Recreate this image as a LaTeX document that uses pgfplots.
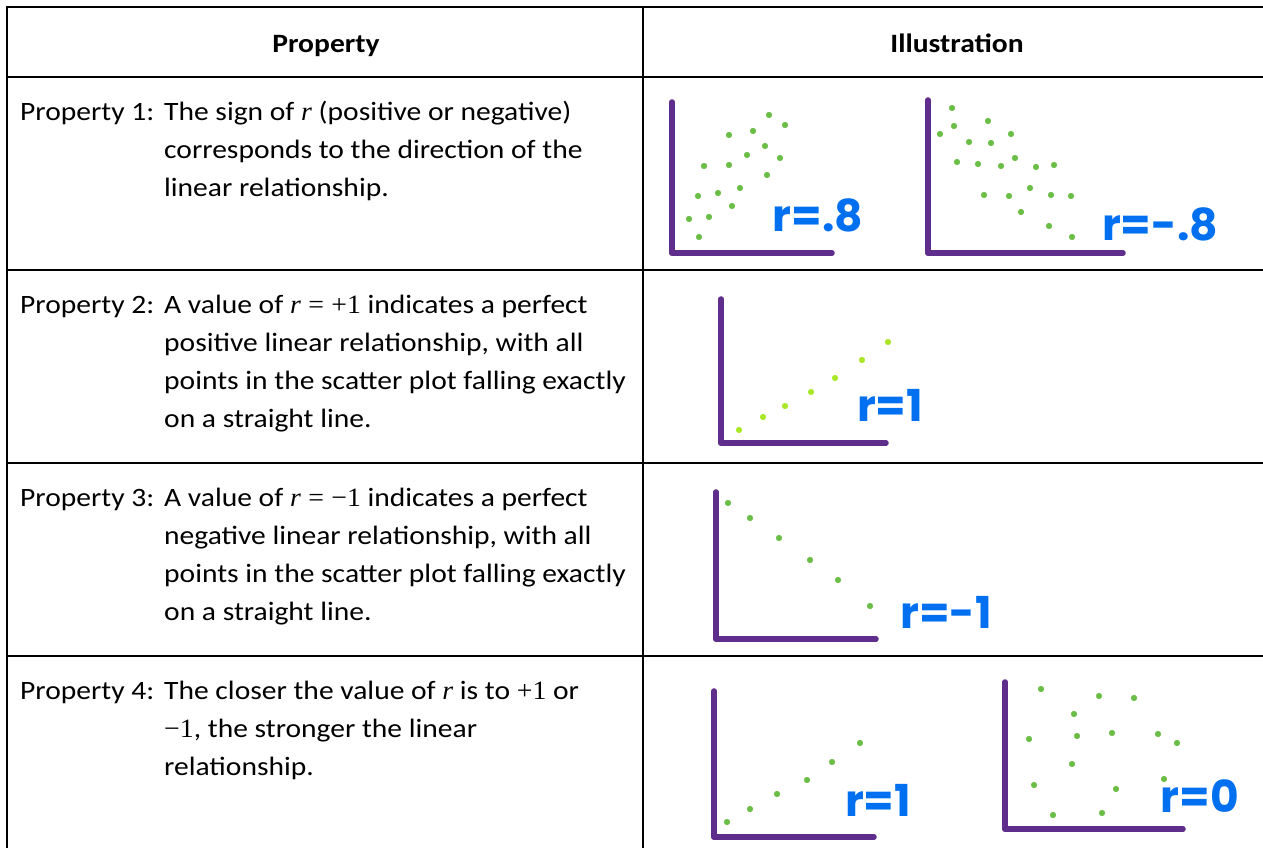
\documentclass[border=0pt]{standalone}
\usepackage{fontspec}
\setmainfont{Carlito}[FakeStretch=1.115]
\newfontfamily\ms{Liberation Serif}[FakeStretch=1.05]
\newfontfamily\hand{Poppins}
\usepackage{pgfplots}
\pgfplotsset{compat=1.18}
\definecolor{purp}{RGB}{95,45,140}
\definecolor{dotg}{RGB}{106,190,70}
\definecolor{limeg}{RGB}{170,230,40}
\definecolor{hblue}{RGB}{0,112,240}
\newcommand{\rr}{{\ms\itshape r}}
\newcommand{\eq}{\hspace{0.28em}{\ms =}\hspace{0.28em}}
\newcommand{\pl}{{\ms +}}
\newcommand{\mi}{{\ms \char"2212}}
\newcommand{\one}{{\ms 1}}
\pgfplotsset{sp/.style={x=1pt,y=1pt,xmin=0,ymin=0,anchor=south west,
  axis x line=bottom, axis y line=left,
  axis line style={draw=purp,line width=5.5pt,line cap=round,-},
  x axis line style={-}, y axis line style={-},
  ticks=none, clip=false},
  dots/.style={only marks, color=#1, mark=*, mark size=2.8pt, mark options={solid,draw=#1,fill=#1,line width=0.5pt}}}
\begin{document}
\begin{tikzpicture}[x=1pt,y=1pt,txt/.style={font=\fontsize{26.5}{38}\selectfont,inner sep=0pt},
  hw/.style={font=\hand\bfseries\fontsize{44}{44}\selectfont,text=hblue,inner sep=0pt}]
\useasboundingbox (0,0) rectangle (1263,848);
% table grid
\draw[line width=2pt] (7,841) -- (1263,841);
\draw[line width=2pt] (7,770.5) -- (1263,770.5);
\draw[line width=2pt] (7,578) -- (1263,578);
\draw[line width=2pt] (7,385) -- (1263,385);
\draw[line width=2pt] (7,192) -- (1263,192);
\draw[line width=2pt] (7,842) -- (7,0);
\draw[line width=2pt] (643,842) -- (643,0);
% header
\node[txt,anchor=base] at (326,795) {\bfseries Property};
\node[txt,anchor=base] at (957,795) {\bfseries Illustration};
% row 1
\node[txt,anchor=base west] at (20,727) {Property 1:};
\node[txt,anchor=base west] at (164,727) {The sign of \rr{} (positive or negative)};
\node[txt,anchor=base west] at (164,689) {corresponds to the direction of the};
\node[txt,anchor=base west] at (164,651) {linear relationship.};
% row 2
\node[txt,anchor=base west] at (20,534) {Property 2:};
\node[txt,anchor=base west] at (164,534) {A value of \rr\eq\pl\one{} indicates a perfect};
\node[txt,anchor=base west] at (164,496) {positive linear relationship, with all};
\node[txt,anchor=base west] at (164,458) {points in the scatter plot falling exactly};
\node[txt,anchor=base west] at (164,420) {on a straight line.};
% row 3
\node[txt,anchor=base west] at (20,341) {Property 3:};
\node[txt,anchor=base west] at (164,341) {A value of \rr\eq\mi\one{} indicates a perfect};
\node[txt,anchor=base west] at (164,303) {negative linear relationship, with all};
\node[txt,anchor=base west] at (164,265) {points in the scatter plot falling exactly};
\node[txt,anchor=base west] at (164,227) {on a straight line.};
% row 4
\node[txt,anchor=base west] at (20,148) {Property 4:};
\node[txt,anchor=base west] at (164,148) {The closer the value of \rr{} is to \pl\one{} or};
\node[txt,anchor=base west] at (164,110) {\mi\one, the stronger the linear};
\node[txt,anchor=base west] at (164,72) {relationship.};
% plot 1: r = .8
\begin{axis}[sp, at={(672,595)}, xmax=160, ymax=151]
\addplot[dots=dotg] coordinates {(97,138) (113,128) (57,118) (81,122) (93,107) (75,98) (108,95) (32,87) (57,88) (95,78) (68,65) (26,57) (46,60) (60,47) (17,34) (37,36) (27,16)};
\end{axis}
\node[hw] at (818,633) {r=.8};
% plot 2: r = -.8
\begin{axis}[sp, at={(928,595)}, xmax=195, ymax=153]
\addplot[dots=dotg] coordinates {(24,145) (60,132) (26,127) (12,119) (83,119) (41,111) (63,110) (29,91) (50,89) (73,87) (87,95) (108,86) (126,88) (56,58) (81,57) (102,65) (123,58) (143,57) (93,41) (121,27) (144,16)};
\end{axis}
\node[hw] at (1160,624) {r=-.8};
% plot 3: r = 1
\begin{axis}[sp, at={(721,405)}, xmax=165, ymax=144]
\addplot[dots=limeg] coordinates {(18,13) (42,26) (64,37) (90,51) (114,65) (141,83) (167,101)};
\end{axis}
\node[hw] at (890,443) {r=1};
% plot 4: r = -1
\begin{axis}[sp, at={(716,209)}, xmax=160, ymax=147]
\addplot[dots=dotg] coordinates {(12,136) (34,121) (63,101) (94,79) (122,59) (154,33)};
\end{axis}
\node[hw] at (946,236) {r=-1};
% plot 5: r = 1
\begin{axis}[sp, at={(714,11)}, xmax=160, ymax=146]
\addplot[dots=dotg] coordinates {(13,15) (36,28) (63,43) (93,57) (118,75) (146,94)};
\end{axis}
\node[hw] at (878,48) {r=1};
% plot 6: r = 0
\begin{axis}[sp, at={(1005,19)}, xmax=178, ymax=147]
\addplot[dots=dotg] coordinates {(36,140) (94,133) (129,131) (69,115) (24,90) (72,93) (107,96) (153,95) (172,86) (67,65) (29,44) (111,40) (159,50) (48,14) (97,16)};
\end{axis}
\node[hw] at (1200,52) {r=0};
\end{tikzpicture}
\end{document}
